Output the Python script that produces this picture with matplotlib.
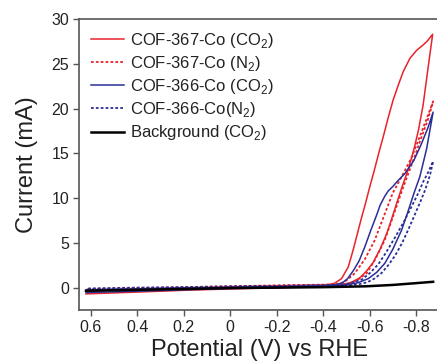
import matplotlib
matplotlib.use("Agg")
import matplotlib.pyplot as plt

plt.rcParams['font.family'] = ['Liberation Sans', 'DejaVu Sans']
plt.rcParams['mathtext.fontset'] = 'custom'
plt.rcParams['mathtext.rm'] = 'Liberation Sans'

# ---- data (potential V vs RHE, current mA) ----
# COF-367-Co (CO2)
red_fwd_v = [0.62, 0.4, 0.2, 0.0, -0.2, -0.4, -0.45, -0.5, -0.53, -0.558, -0.585, -0.615, -0.645,
             -0.673, -0.695, -0.716, -0.74, -0.766, -0.79, -0.81, -0.83, -0.85, -0.871]
red_fwd_i = [-0.7, -0.5, -0.3, -0.15, -0.02, 0.12, 0.2, 0.4, 0.7, 1.1, 1.8, 2.8, 4.3,
             6.0, 7.7, 9.4, 11.3, 13.2, 15.4, 17.6, 20.4, 24.3, 28.3]
red_rev_v = [-0.871, -0.85, -0.83, -0.802, -0.773, -0.744, -0.723, -0.701, -0.68, -0.66, -0.64,
             -0.62, -0.60, -0.58, -0.565, -0.551, -0.529, -0.508, -0.479, -0.45, -0.429, -0.4,
             -0.2, 0.0, 0.2, 0.4, 0.62]
red_rev_i = [28.3, 27.6, 27.1, 26.5, 25.6, 24.1, 22.6, 20.95, 19.0, 17.0, 15.1,
             13.1, 11.2, 9.2, 7.8, 6.4, 4.2, 2.3, 1.0, 0.5, 0.37, 0.3,
             0.2, 0.08, -0.05, -0.2, -0.4]

# COF-367-Co (N2)
redn_fwd_v = [0.62, 0.4, 0.2, 0.0, -0.2, -0.45, -0.52, -0.55, -0.587, -0.625, -0.665, -0.70,
              -0.74, -0.77, -0.80, -0.82, -0.85, -0.873]
redn_fwd_i = [-0.3, -0.2, -0.1, 0.0, 0.1, 0.3, 0.5, 0.9, 1.6, 3.2, 5.3, 7.9,
              10.9, 13.0, 15.1, 16.6, 18.7, 20.8]
redn_rev_v = [-0.873, -0.84, -0.81, -0.78, -0.74, -0.70, -0.66, -0.622, -0.58, -0.536, -0.50,
              -0.48, -0.45, -0.2, 0.0, 0.2, 0.4, 0.62]
redn_rev_i = [20.8, 18.5, 16.5, 14.5, 12.5, 10.6, 7.9, 5.3, 3.2, 1.6, 0.8,
              0.5, 0.35, 0.25, 0.15, 0.05, -0.05, -0.15]

# COF-366-Co (CO2)
blue_fwd_v = [0.62, 0.4, 0.2, 0.0, -0.2, -0.45, -0.5, -0.55, -0.594, -0.63, -0.665, -0.70,
              -0.737, -0.765, -0.79, -0.816, -0.845, -0.873]
blue_fwd_i = [-0.55, -0.4, -0.25, -0.1, 0.0, 0.2, 0.3, 0.55, 1.0, 1.7, 2.7, 4.3,
              6.4, 8.5, 10.5, 12.4, 15.5, 19.6]
blue_rev_v = [-0.873, -0.85, -0.82, -0.79, -0.752, -0.72, -0.70, -0.68, -0.665, -0.645, -0.63,
              -0.605, -0.58, -0.555, -0.53, -0.505, -0.486, -0.46, -0.4, -0.2, 0.0, 0.2, 0.4, 0.62]
blue_rev_i = [19.6, 17.8, 15.9, 14.2, 12.75, 11.9, 11.3, 10.8, 10.2, 9.2, 8.1,
              6.4, 4.6, 3.0, 1.9, 1.0, 0.6, 0.35, 0.2, 0.1, 0.0, -0.1, -0.2, -0.3]

# COF-366-Co (N2)
bluen_fwd_v = [0.62, 0.4, 0.2, 0.0, -0.2, -0.45, -0.55, -0.59, -0.62, -0.65, -0.68, -0.71,
               -0.74, -0.77, -0.80, -0.82, -0.84, -0.86, -0.873]
bluen_fwd_i = [-0.25, -0.15, -0.05, 0.0, 0.05, 0.15, 0.35, 0.6, 1.0, 1.6, 2.5, 3.6,
               5.0, 6.7, 8.5, 9.7, 11.0, 12.6, 14.1]
bluen_rev_v = [-0.873, -0.85, -0.83, -0.81, -0.787, -0.75, -0.709, -0.67, -0.637, -0.60, -0.566,
               -0.53, -0.5, -0.45, -0.2, 0.0, 0.2, 0.4, 0.62]
bluen_rev_i = [14.1, 12.8, 11.8, 10.6, 9.4, 7.5, 5.6, 3.9, 2.6, 1.6, 0.9,
               0.6, 0.4, 0.3, 0.2, 0.15, 0.05, 0.0, -0.1]

# Background (CO2)
bg_v = [0.62, 0.4, 0.2, 0.0, -0.2, -0.4, -0.5, -0.587, -0.7, -0.8, -0.873]
bg_i = [-0.35, -0.25, -0.15, -0.05, 0.0, 0.05, 0.1, 0.15, 0.3, 0.5, 0.65]

labels = ['COF-367-Co (CO$_2$)', 'COF-367-Co (N$_2$)', 'COF-366-Co (CO$_2$)',
          'COF-366-Co(N$_2$)', 'Background (CO$_2$)']
xticks = [0.6, 0.4, 0.2, 0, -0.2, -0.4, -0.6, -0.8]
xticklabels = ['0.6', '0.4', '0.2', '0', '-0.2', '-0.4', '-0.6', '-0.8']
yticks = [0, 5, 10, 15, 20, 25, 30]

RED = '#e8232b'
BLUE = '#2a2f98'

fig = plt.figure(figsize=(4.37, 3.62), dpi=100)
ax = fig.add_axes([79/437, 52/362, 360.4/437, 291/362])

ax.plot(red_fwd_v + red_rev_v, red_fwd_i + red_rev_i, color=RED, lw=1.1,
        solid_joinstyle='round', label=labels[0])
ax.plot(redn_fwd_v + redn_rev_v, redn_fwd_i + redn_rev_i, color=RED, lw=1.3,
        ls=(0, (1.5, 1.2)), label=labels[1])
ax.plot(blue_fwd_v + blue_rev_v, blue_fwd_i + blue_rev_i, color=BLUE, lw=1.1,
        solid_joinstyle='round', label=labels[2])
ax.plot(bluen_fwd_v + bluen_rev_v, bluen_fwd_i + bluen_rev_i, color=BLUE, lw=1.3,
        ls=(0, (1.5, 1.2)), label=labels[3])
ax.plot(bg_v, bg_i, color='black', lw=1.8, label=labels[4])

ax.set_xlim(0.65, -0.9)
ax.set_ylim(-2.5, 30)
ax.set_xticks(xticks)
ax.set_xticklabels(xticklabels)
ax.set_yticks(yticks)

for s in ['left', 'bottom', 'top']:
    ax.spines[s].set_color('#555555')
    ax.spines[s].set_linewidth(1.2)
ax.spines['right'].set_visible(False)
ax.tick_params(direction='out', length=4, width=1.0, color='#555555',
               labelsize=11.5, labelcolor='#222222', pad=3)

ax.set_xlabel('Potential (V) vs RHE', fontsize=17, color='#222222', labelpad=3)
ax.set_ylabel('Current (mA)', fontsize=17, color='#222222', labelpad=10)

leg = ax.legend(loc='upper left', bbox_to_anchor=(0.0, 1.0), frameon=False,
                fontsize=12, handlelength=2.0, handletextpad=0.35,
                labelspacing=0.25, borderaxespad=0.3)
for t in leg.get_texts():
    t.set_color('#222222')

fig.savefig('out.png', dpi=100)
